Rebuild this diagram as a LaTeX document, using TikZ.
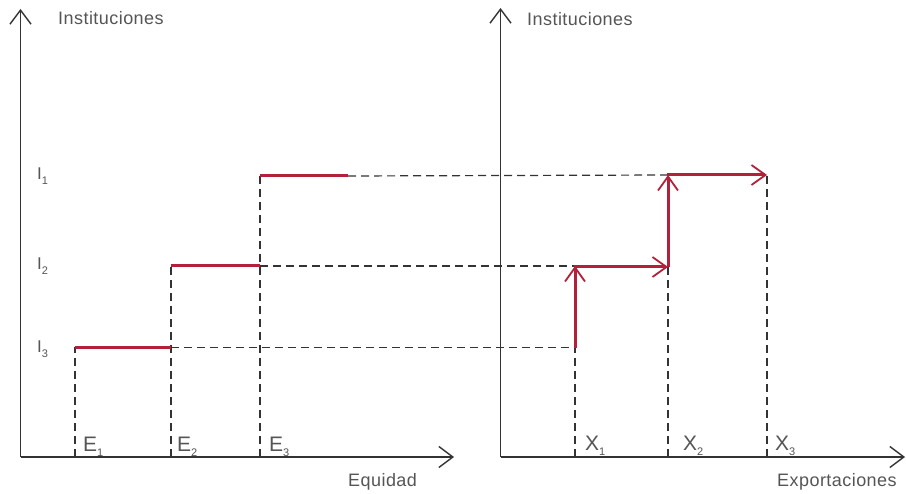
\documentclass[tikz,border=0pt]{standalone}
\usepackage{fontspec}
\setmainfont{Liberation Sans}[LetterSpace=2.5]
\usetikzlibrary{arrows.meta}
\definecolor{redline}{HTML}{B3203A}
\definecolor{axisgray}{HTML}{333333}
\definecolor{textgray}{HTML}{555555}
\newcommand{\lbl}[2]{#1\raisebox{-5pt}{\fontsize{11}{11}\selectfont #2}}
\tikzset{
  axisline/.style={draw=axisgray, line width=1.6pt, -{Straight Barb[length=14pt,width=21pt,line width=1.4pt]}},
  guide/.style={draw=axisgray, line width=1.2pt, dash pattern=on 8pt off 5pt},
  level/.style={draw=redline, line width=3pt},
  move/.style={draw=redline, line width=3pt, -{Straight Barb[length=14pt,width=20pt,line width=1.8pt]}},
  axtitle/.style={inner sep=0pt, anchor=base west, text=textgray, font=\fontsize{18}{18}\selectfont},
  ticklbl/.style={inner sep=0pt, anchor=base west, text=textgray, font=\fontsize{21}{21}\selectfont},
  levlbl/.style={inner sep=0pt, anchor=base west, text=textgray, font=\fontsize{17}{17}\selectfont}
}
\begin{document}
\begin{tikzpicture}[x=1pt,y=-1pt]
\useasboundingbox (0,0) rectangle (906,494);
% left axes
\coordinate (LO) at (20.5,457);
\coordinate (LY) at (20.5,9);
\coordinate (LX) at (454,457);
\draw[axisline] (LO) -- (LY);
\draw[axisline] (LO) -- (LX);
% right axes
\coordinate (RO) at (500.5,457);
\coordinate (RY) at (500.5,8);
\coordinate (RX) at (905,457);
\draw[axisline] (RO) -- (RY);
\draw[axisline] (RO) -- (RX);

% left step points
\coordinate (e1b) at (75,457);  \coordinate (e1t) at (75,347.5);
\coordinate (e2b) at (171,457); \coordinate (e2t) at (171,266);  \coordinate (e2m) at (171,347.5);
\coordinate (e3b) at (260,457); \coordinate (e3t) at (260,176);  \coordinate (e3m) at (260,266);
\coordinate (e4) at (348,176);
% right step points
\coordinate (x1b) at (575,457); \coordinate (x1m) at (575,347.5); \coordinate (x1t) at (575,266);
\coordinate (x2b) at (668,457); \coordinate (x2m) at (668,267);  \coordinate (x2t) at (668,175);
\coordinate (x3b) at (767,457); \coordinate (x3t) at (767,175);

% dashed guides
\draw[guide] (e1b) -- (e1t);
\draw[guide] (e2b) -- (e2t);
\draw[guide] (e3b) -- (e3t);
\draw[guide] (e2m) -- (x1m);
\draw[guide] (e3m) -- (x1t);
\draw[guide] (e4) -- (x2t);
\draw[guide] (x1b) -- (x1m);
\draw[guide] (x2b) -- (x2m);
\draw[guide] (x3b) -- (x3t);

% red levels
\draw[level] (e1t) -- (e2m);
\draw[level] (e2t) -- (e3m);
\draw[level] (e3t) -- (e4);

% red moves
\draw[move, shorten <=-1pt] (x1m) -- (x1t);
\draw[move] ([xshift=-1.5pt]x1t|-x2m) -- (x2m);
\draw[move] (x2m) -- (x2t);
\draw[move] ([xshift=-1.5pt]x2t) -- (x3t);

% labels
\node[axtitle] (tl) at (58,25) {Instituciones};
\node[axtitle] (tr) at (527,26) {Instituciones};
\node[axtitle] (xl) at (348,487) {Equidad};
\node[axtitle] (xr) at (777,487) {Exportaciones};
\node[levlbl] (i1) at (37,180) {\lbl{I}{1}};
\node[levlbl] (i2) at (37,270) {\lbl{I}{2}};
\node[levlbl] (i3) at (37,353) {\lbl{I}{3}};
\node[ticklbl] (le1) at (83,452) {\lbl{E}{1}};
\node[ticklbl] (le2) at (177,452) {\lbl{E}{2}};
\node[ticklbl] (le3) at (269,452) {\lbl{E}{3}};
\node[ticklbl] (lx1) at (585,451) {\lbl{X}{1}};
\node[ticklbl] (lx2) at (683,451) {\lbl{X}{2}};
\node[ticklbl] (lx3) at (775,451) {\lbl{X}{3}};
\end{tikzpicture}
\end{document}
